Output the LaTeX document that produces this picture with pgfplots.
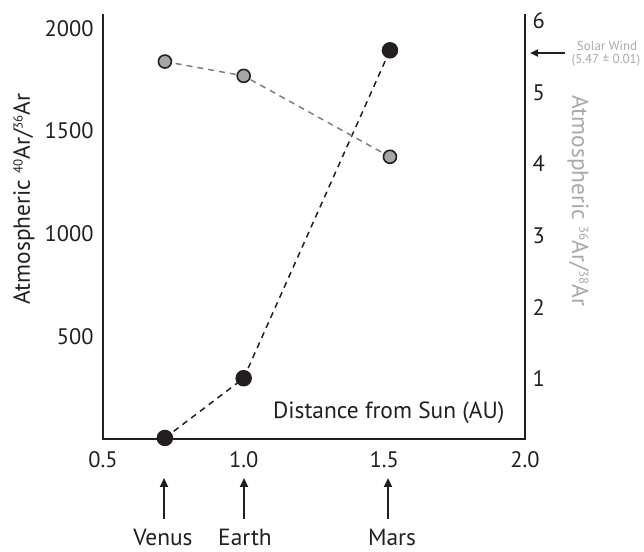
\documentclass[border=0pt]{standalone}
\usepackage{fontspec}
\setmainfont{PT Sans}
\usepackage{pgfplots}
\pgfplotsset{compat=1.18}
\usetikzlibrary{arrows.meta}
\definecolor{ink}{HTML}{231F20}
\definecolor{lgray}{HTML}{A7A9AC}
\definecolor{mgray}{HTML}{7F7F7F}
\definecolor{fgray}{HTML}{A6A6A6}
\newcommand{\bigf}{\fontsize{23.5}{28}\selectfont}
\newcommand{\tickf}{\fontsize{22.5}{27}\selectfont}
\newcommand{\sups}[1]{\raisebox{0.62ex}{\fontsize{13}{13}\selectfont #1}}

\begin{document}
\begin{tikzpicture}[x=1bp,y=1bp]
\useasboundingbox (0,0) rectangle (644,552);
\pgfplotsset{every axis/.append style={
  scale only axis, width=422bp, height=424bp,
  at={(103bp,113bp)}, anchor=south west,
  xmin=0.5, xmax=2.0, clip=false,
  axis line style={ink, line width=2.8bp, -, line cap=rect},
  major tick length=0pt,
  tick label style={font=\tickf, text=ink},
  /pgf/number format/assume math mode=true,
}}
% left axis: 40Ar/36Ar
\begin{axis}[
  axis x line*=bottom, axis y line*=left,
  ymin=0, ymax=2065,
  xtick={0.5,1.0,1.5,2.0},
  xticklabel style={yshift=-9bp, /pgf/number format/.cd, fixed, fixed zerofill, precision=1},
  ytick={500,1000,1500,2000},
  yticklabel style={xshift=-6bp, /pgf/number format/1000 sep={}},
]
\addplot[ink, line width=1.5bp, dash pattern=on 6bp off 5bp,
  mark=*, mark size=7.5bp, mark options={solid, fill=ink, draw=ink}]
  coordinates {(0.72,5) (1.0,296) (1.52,1893)};
\end{axis}
% right axis: 36Ar/38Ar
\begin{axis}[
  axis x line=none, axis y line*=right,
  ymin=0.16, ymax=6.08,
  ytick={1,2,3,4,5,6},
  yticklabel style={xshift=4bp},
]
\addplot[mgray, line width=1.5bp, dash pattern=on 6bp off 5bp,
  mark=*, mark size=6.5bp, mark options={solid, fill=fgray, draw=ink, line width=1.6bp}]
  coordinates {(0.72,5.43) (1.0,5.23) (1.52,4.10)};
\end{axis}

\node[rotate=90, font=\bigf, text=ink] at (24,353) {Atmospheric \sups{40}Ar/\sups{36}Ar};
\node[rotate=-90, font=\bigf, text=lgray] at (578,351) {Atmospheric \sups{36}Ar/\sups{38}Ar};
\node[anchor=east, font=\bigf, text=ink] at (508,139) {Distance from Sun (AU)};

\draw[ink, line width=2bp, -{Triangle[length=8bp,width=7bp]}] (565,499) -- (530,499);
\node[font=\fontsize{13}{15}\selectfont, text=lgray] at (607,506) {Solar Wind};
\node[font=\fontsize{13}{15}\selectfont, text=lgray] at (606,492) {(5.47 ± 0.01)};

\foreach \px/\lx/\name in {164/163/Venus, 244/245/Earth, 388/392/Mars} {
  \draw[ink, line width=2.2bp, -{Triangle[length=9bp,width=8bp]}] (\px,33) -- (\px,74);
  \node[font=\bigf, text=ink, anchor=base, inner sep=0pt] at (\lx,6) {\name};
}
\end{tikzpicture}
\end{document}
